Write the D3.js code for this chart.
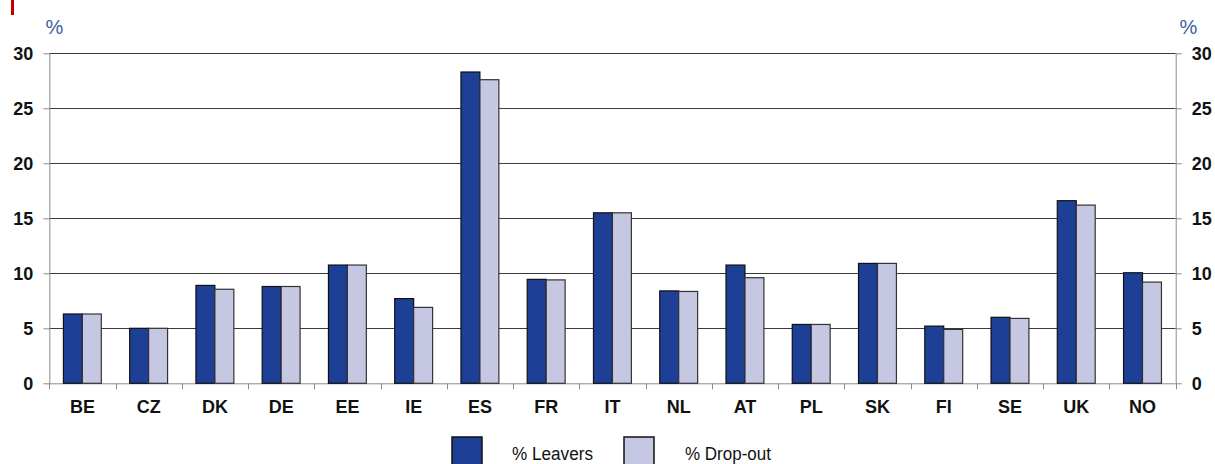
<!DOCTYPE html>
<html><head><meta charset="utf-8">
<script src="https://cdn.jsdelivr.net/npm/d3@7"></script>
<style>body{margin:0;background:#fff;}svg{display:block;font-family:"Liberation Sans",Arial,sans-serif;}</style>
</head><body><svg id="c" width="1215" height="464"></svg>
<script>
const categories = ["BE","CZ","DK","DE","EE","IE","ES","FR","IT","NL","AT","PL","SK","FI","SE","UK","NO"];
const leavers = [6.3,5.0,8.9,8.8,10.75,7.7,28.3,9.45,15.5,8.4,10.75,5.35,10.9,5.2,6.0,16.6,10.05];
const dropout = [6.3,5.0,8.55,8.8,10.75,6.9,27.6,9.4,15.5,8.35,9.6,5.35,10.9,4.9,5.9,16.2,9.2];
const seriesNames = ["% Leavers","% Drop-out"];
const yTicks = [0,5,10,15,20,25,30];

const colors = ["#1d3f95","#c6c7e3"];
const strokes = ["#111","#333"];
const svg = d3.select("#c");
const L = 49.3, R = 1175.7, T = 53.3, B = 383.3;

const x = d3.scaleBand().domain(categories).range([L,R]).padding(0);
const x1 = d3.scaleBand().domain(seriesNames).range([x.bandwidth()*0.213, x.bandwidth()*0.785]).padding(0);
const y = d3.scaleLinear().domain([0,30]).range([B,T]);

// red marker
svg.append("rect").attr("x",11).attr("y",0).attr("width",3).attr("height",15).attr("fill","#c00000");

// gridlines
svg.append("g").selectAll("line").data(yTicks.filter(d=>d>0)).join("line")
  .attr("x1",L).attr("x2",R).attr("y1",d=>Math.round(y(d))+0.5).attr("y2",d=>Math.round(y(d))+0.5)
  .attr("stroke","#3a3a3a").attr("stroke-width",1);

// axes
const yl = svg.append("g").attr("transform",`translate(${L},0)`).call(d3.axisLeft(y).tickValues(yTicks).tickSize(6).tickPadding(10));
const yr = svg.append("g").attr("transform",`translate(${R},0)`).call(d3.axisRight(y).tickValues(yTicks).tickSize(6).tickPadding(10));
[yl,yr].forEach(g=>{
  g.select(".domain").attr("stroke","#8a8a8a");
  g.selectAll(".tick line").attr("stroke","#8a8a8a");
  g.selectAll("text").attr("font-size",18).attr("font-weight","bold").attr("fill","#111").attr("font-family","Liberation Sans, Arial, sans-serif");
});
yl.select(".domain").attr("d",`M0.5,${T}V${B}`);
yr.select(".domain").attr("d",`M0.5,${T}V${B}`);

// bottom axis
const xa = svg.append("g").attr("transform",`translate(0,${B})`);
xa.append("line").attr("x1",L).attr("x2",R).attr("y1",0.5).attr("y2",0.5).attr("stroke","#8a8a8a");
xa.selectAll(".tk").data(categories.concat(["_end"])).join("line")
  .attr("x1",(d,i)=>Math.round(L+i*x.step())+0.5).attr("x2",(d,i)=>Math.round(L+i*x.step())+0.5)
  .attr("y1",0).attr("y2",6).attr("stroke","#8a8a8a");
xa.selectAll("text").data(categories).join("text")
  .attr("x",d=>x(d)+x.bandwidth()/2).attr("y",30).attr("text-anchor","middle")
  .attr("font-size",18).attr("font-weight","bold").attr("fill","#111").text(d=>d);

// bars
const data = categories.map((c,i)=>({c, v:[leavers[i],dropout[i]]}));
const grp = svg.append("g").selectAll("g").data(data).join("g").attr("transform",d=>`translate(${x(d.c)},0)`);
grp.selectAll("rect").data(d=>d.v.map((v,j)=>({s:seriesNames[j],v,j}))).join("rect")
  .attr("x",d=>x1(d.s)).attr("width",x1.bandwidth()).attr("y",d=>y(d.v)).attr("height",d=>B-y(d.v))
  .attr("fill",d=>colors[d.j]).attr("stroke",d=>strokes[d.j]).attr("stroke-width",1.2);

// % labels
svg.append("text").attr("x",54.5).attr("y",34).attr("text-anchor","middle").attr("font-size",20).attr("fill","#3a5f9e").text("%");
svg.append("text").attr("x",1188.5).attr("y",34).attr("text-anchor","middle").attr("font-size",20).attr("fill","#3a5f9e").text("%");

// legend
const lg = svg.append("g");
const legX = [452,624], legTX = [512,685];
seriesNames.forEach((s,j)=>{
  lg.append("rect").attr("x",legX[j]).attr("y",437).attr("width",30).attr("height",32)
    .attr("fill",colors[j]).attr("stroke","#111").attr("stroke-width",1.5);
  lg.append("text").attr("x",legTX[j]).attr("y",460).attr("font-size",18).attr("fill","#111")
    .attr("textLength", j===0?81:86).attr("lengthAdjust","spacingAndGlyphs").text(s);
});
</script></body></html>
